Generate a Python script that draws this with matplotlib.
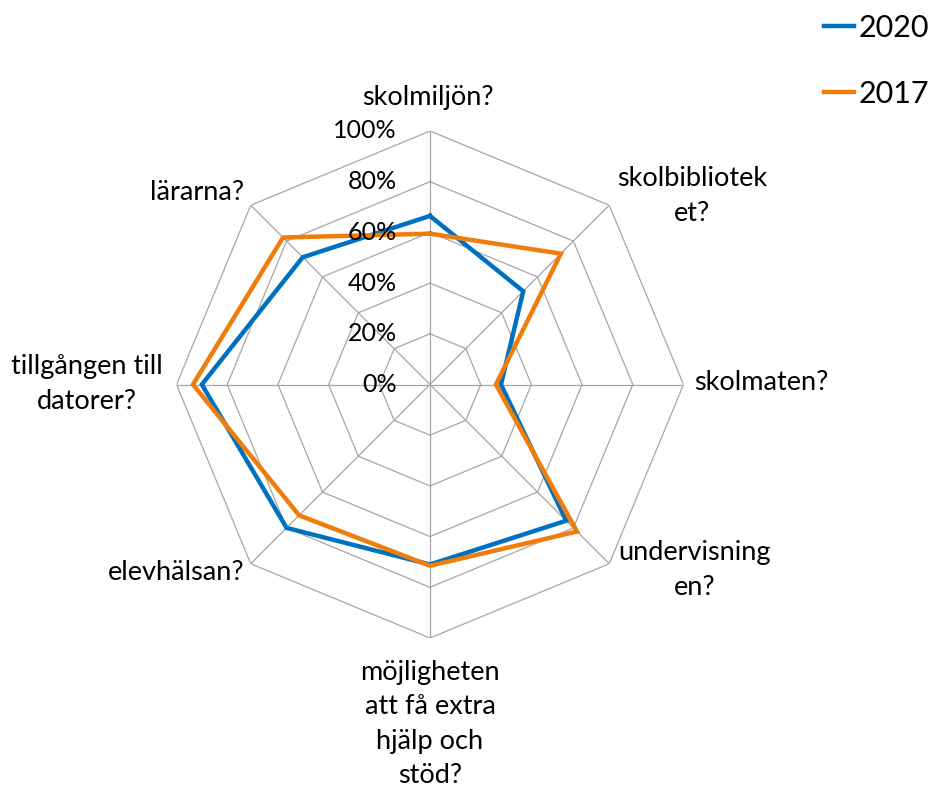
import numpy as np
import matplotlib
matplotlib.use('Agg')
import matplotlib.pyplot as plt
from matplotlib.transforms import offset_copy

plt.rcParams['font.family'] = ['Lato', 'DejaVu Sans']

# categories, clockwise from the top
categories = ['skolmiljön?', 'skolbibliotek\net?', 'skolmaten?', 'undervisning\nen?',
              'möjligheten\natt få extra\nhjälp och\nstöd?', 'elevhälsan?',
              'tillgången till\ndatorer?', 'lärarna?']
vals_2020 = [0.665, 0.52, 0.28, 0.76, 0.71, 0.80, 0.90, 0.71]
vals_2017 = [0.595, 0.73, 0.26, 0.82, 0.715, 0.73, 0.935, 0.82]
series = [('2020', vals_2020, '#0070C0'), ('2017', vals_2017, '#F07C0A')]
r_ticks = [0, 0.2, 0.4, 0.6, 0.8, 1.0]
r_labels = ['0%', '20%', '40%', '60%', '80%', '100%']

W, H = 932, 787
fig = plt.figure(figsize=(W / 100, H / 100), dpi=100)

cx, cy, R = 430, 384.5, 253.5
ax = fig.add_axes([(cx - R) / W, (H - cy - R) / H, 2 * R / W, 2 * R / H], polar=True)
ax.set_theta_zero_location('N')
ax.set_theta_direction(-1)
ax.set_ylim(0, 1)
ax.grid(False)
ax.set_xticks([])
ax.set_yticks([])
ax.spines['polar'].set_visible(False)
ax.patch.set_alpha(0)

n = len(categories)
angles = np.arange(n) * 2 * np.pi / n
closed = np.append(angles, angles[0])

# octagon grid
grid_col = '#A6A6A6'
for r in r_ticks[1:]:
    ax.plot(closed, [r] * (n + 1), color=grid_col, lw=0.9, zorder=1)
for a in angles:
    ax.plot([a, a], [0, 1], color=grid_col, lw=0.9, zorder=1)

# radial labels
trans = offset_copy(ax.transData, fig=fig, x=-33, y=0, units='dots')
for r, lab in zip(r_ticks, r_labels):
    ax.text(0, r, lab, transform=trans, ha='right', va='center', fontsize=18, zorder=5)

lines = []
for name, vals, col in series:
    ln, = ax.plot(closed, vals + vals[:1], color=col, lw=3.2, label=name,
                  solid_joinstyle='miter', zorder=3)
    lines.append(ln)

# category labels (pixel positions of the text anchors)
label_pos = [(428, 97, 'center'), (692, 196, 'center'), (694, 383, 'left'),
             (695, 570, 'center'), (430, 724, 'center'), (244, 573, 'right'),
             (87, 384, 'center'), (244, 193, 'right')]
for lab, (px, py, ha) in zip(categories, label_pos):
    fig.text(px / W, 1 - py / H, lab, ha=ha, va='center', fontsize=19.5,
             linespacing=1.48)

fig.legend(handles=lines, loc='upper right', bbox_to_anchor=(1.012, 1.0),
           frameon=False, fontsize=22, handlelength=1.0, handletextpad=0.15,
           labelspacing=1.25, borderaxespad=0.05)

fig.savefig('out.png', dpi=100)
